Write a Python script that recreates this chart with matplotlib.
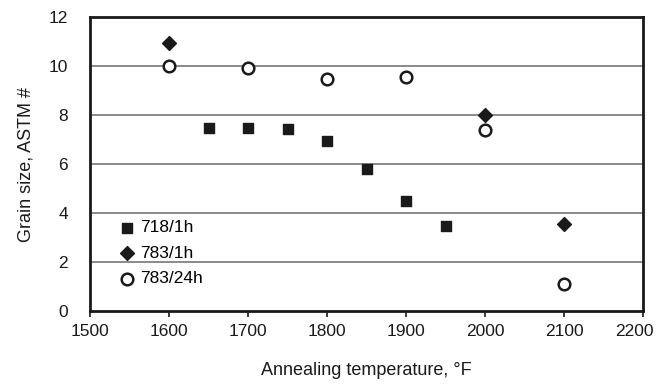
import matplotlib
matplotlib.use("Agg")
import matplotlib.pyplot as plt
from matplotlib.transforms import ScaledTranslation

plt.rcParams['font.family'] = ['Liberation Sans', 'DejaVu Sans']

# data
t_718_1h = [1650, 1700, 1750, 1800, 1850, 1900, 1950]
g_718_1h = [7.47, 7.47, 7.43, 6.95, 5.8, 4.5, 3.45]

t_783_1h = [1600, 2000, 2100]
g_783_1h = [10.95, 8.0, 3.55]

t_783_24h = [1600, 1700, 1800, 1900, 2000, 2100]
g_783_24h = [10.0, 9.9, 9.47, 9.55, 7.4, 1.1]

xticks = [1500, 1600, 1700, 1800, 1900, 2000, 2100, 2200]
yticks = [0, 2, 4, 6, 8, 10, 12]
grid_y = [2, 4, 6, 8, 10]

fig = plt.figure(figsize=(6.58, 3.88), dpi=100)
ax = fig.add_axes([90/658, 1-311/388, (643-90)/658, (311-17)/388])

for g in grid_y:
    ax.axhline(g, color='#777777', lw=1.2, zorder=1)

ax.scatter(t_718_1h, g_718_1h, marker='s', s=55, color='#1a1a1a', zorder=3, label='718/1h')
ax.scatter(t_783_1h, g_783_1h, marker='D', s=50, color='#1a1a1a', zorder=3, label='783/1h')
ax.scatter(t_783_24h, g_783_24h, marker='o', s=70, facecolor='white', edgecolor='#1a1a1a',
           linewidths=1.8, zorder=3, label='783/24h')

ax.set_xlim(1500, 2200)
ax.set_ylim(0, 12)
ax.set_xticks(xticks)
ax.set_yticks(yticks)
ax.tick_params(axis='x', length=4, width=1.2, labelsize=12.5, pad=5, colors='#1a1a1a')
ax.tick_params(axis='y', length=0, labelsize=12.5, pad=16, colors='#1a1a1a')
for s in ax.spines.values():
    s.set_linewidth(2)
    s.set_color('#1a1a1a')

# last x label sits a bit left so it stays inside the picture
last = ax.get_xticklabels()[-1]
last.set_transform(last.get_transform() + ScaledTranslation(-9/100, 0, fig.dpi_scale_trans))

ax.set_xlabel('Annealing temperature, °F', fontsize=13, labelpad=17, color='#1a1a1a')
ax.set_ylabel('Grain size, ASTM #', fontsize=13, labelpad=10, color='#1a1a1a')

leg = ax.legend(loc='lower left', bbox_to_anchor=(0.035, 0.06), frameon=False,
                fontsize=12.5, handletextpad=0.15, labelspacing=0.6, borderaxespad=0,
                handlelength=1.2)

fig.savefig('out.png', dpi=100)
